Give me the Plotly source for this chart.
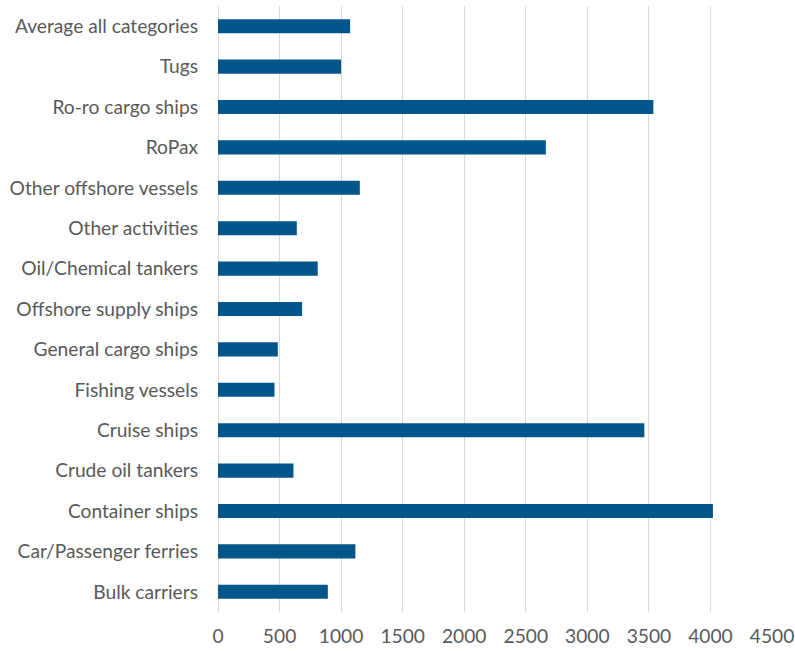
import plotly.graph_objects as go

categories = ["Bulk carriers", "Car/Passenger ferries", "Container ships", "Crude oil tankers",
              "Cruise ships", "Fishing vessels", "General cargo ships", "Offshore supply ships",
              "Oil/Chemical tankers", "Other activities", "Other offshore vessels", "RoPax",
              "Ro-ro cargo ships", "Tugs", "Average all categories"]
values = [892, 1116, 4020, 613, 3463, 459, 486, 683, 810, 640, 1152, 2663, 3536, 1000, 1073]
x_ticks = [0, 500, 1000, 1500, 2000, 2500, 3000, 3500, 4000, 4500]

fig = go.Figure(go.Bar(
    y=categories, x=values, orientation="h",
    marker=dict(color="#03568A", line=dict(width=0)),
))
fig.update_layout(
    width=795, height=651,
    margin=dict(l=218, r=23, t=6, b=39, autoexpand=False),
    paper_bgcolor="white", plot_bgcolor="white",
    font=dict(family="Lato", size=19.2, color="#595959"),
    bargap=0.65, showlegend=False,
    xaxis=dict(range=[0, 4500], tickvals=x_ticks, showgrid=True, gridcolor="#D9D9D9",
               gridwidth=1, zeroline=True, zerolinecolor="#D9D9D9", zerolinewidth=1,
               ticks="", ticklabelstandoff=11, automargin=False, fixedrange=True),
    yaxis=dict(type="category", categoryorder="array", categoryarray=categories,
               showgrid=False, zeroline=False, ticks="", ticklabelstandoff=19,
               showline=False, automargin=False),
)
fig.write_html("out.html")
